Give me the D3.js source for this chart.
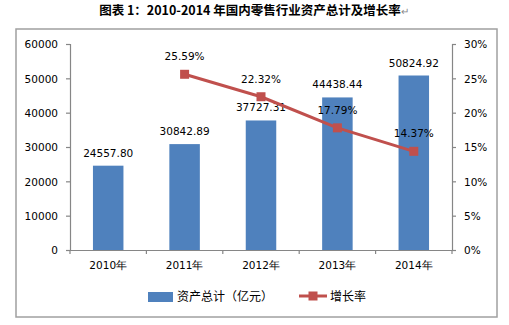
<!DOCTYPE html>
<html><head><meta charset="utf-8">
<script src="https://cdn.jsdelivr.net/npm/d3@7/dist/d3.min.js"></script>
<style>body{margin:0;background:#fff}svg{display:block}</style>
</head><body>
<svg id="c" width="509" height="325"></svg>
<script>
const categories = ["2010年","2011年","2012年","2013年","2014年"];
const assets = [24557.80, 30842.89, 37727.31, 44438.44, 50824.92];
const growth = [null, 25.59, 22.32, 17.79, 14.37];
const leftTicks = [0,10000,20000,30000,40000,50000,60000];
const rightTicks = [0,5,10,15,20,25,30];
const title = "图表 1：2010-2014 年国内零售行业资产总计及增长率";
const legendLabels = ["资产总计（亿元）","增长率"];

const svg = d3.select("#c");
const numFont = "'DejaVu Sans', Verdana, sans-serif";
const cjkFont = "'Noto Sans CJK SC', sans-serif";
const axisColor = "#868686";
const barColor = "#4F81BD", lineColor = "#C0504D";

// frame
svg.append("rect").attr("x",16).attr("y",29).attr("width",481).attr("height",288)
  .attr("fill","none").attr("stroke","#a0a0a0").attr("stroke-width",1.5);

// title
const t = svg.append("text").attr("x",254).attr("y",15).attr("text-anchor","middle")
  .attr("font-family",cjkFont).attr("font-size",12.5).attr("font-weight","bold").attr("fill","#000");
t.append("tspan").text(title);
t.append("tspan").attr("fill","#888").attr("font-weight","normal").attr("font-size",10).text("↵");

const x = d3.scaleBand().domain(categories).range([70,452]);
const yL = d3.scaleLinear().domain([0,60000]).range([250,44]);
const yR = d3.scaleLinear().domain([0,30]).range([250,44]);

// axes
const gl = svg.append("g").attr("transform","translate(70,0)")
  .call(d3.axisLeft(yL).tickValues(leftTicks).tickSize(4).tickPadding(8).tickFormat(d3.format("d")));
const gr = svg.append("g").attr("transform","translate(452,0)")
  .call(d3.axisRight(yR).tickValues(rightTicks).tickSize(4).tickPadding(8).tickFormat(d=>d+"%"));
const gb = svg.append("g").attr("transform","translate(0,250)")
  .call(d3.axisBottom(x).tickSize(0).tickPadding(12));
// category tick marks at band edges
svg.append("g").selectAll("line").data(d3.range(categories.length+1)).join("line")
  .attr("x1",i=>70+i*x.step()).attr("x2",i=>70+i*x.step()).attr("y1",250).attr("y2",254)
  .attr("stroke",axisColor).attr("stroke-width",1.2);
[gl,gr,gb].forEach(g=>{
  g.selectAll("path,line").attr("stroke",axisColor).attr("stroke-width",1.2);
  g.selectAll("text").attr("font-family",numFont).attr("font-size",10.5).attr("fill","#000");
});
gb.select(".domain").attr("d","M70,0.5H452");
gl.selectAll("text").attr("dy","0.35em");
gr.selectAll("text").attr("dy","0.35em");

// bars
const bw = 30.5;
svg.append("g").selectAll("rect").data(assets).join("rect")
  .attr("x",(d,i)=>x(categories[i])+x.bandwidth()/2-bw/2)
  .attr("width",bw).attr("y",d=>yL(d)).attr("height",d=>250-yL(d)).attr("fill",barColor);
svg.append("g").selectAll("text").data(assets).join("text")
  .attr("x",(d,i)=>x(categories[i])+x.bandwidth()/2).attr("y",d=>yL(d)-9)
  .attr("text-anchor","middle").attr("font-family",numFont).attr("font-size",10.5)
  .text(d=>d.toFixed(2));

// line
const pts = growth.map((g,i)=>({g,c:categories[i]})).filter(d=>d.g!=null);
svg.append("path").datum(pts)
  .attr("d",d3.line().x(d=>x(d.c)+x.bandwidth()/2).y(d=>yR(d.g)))
  .attr("fill","none").attr("stroke",lineColor).attr("stroke-width",3).attr("stroke-linejoin","round");
svg.append("g").selectAll("rect").data(pts).join("rect")
  .attr("x",d=>x(d.c)+x.bandwidth()/2-4.5).attr("y",d=>yR(d.g)-4.5)
  .attr("width",9).attr("height",9).attr("fill",lineColor);
svg.append("g").selectAll("text").data(pts).join("text")
  .attr("x",d=>x(d.c)+x.bandwidth()/2).attr("y",d=>yR(d.g)-14)
  .attr("text-anchor","middle").attr("font-family",numFont).attr("font-size",10.5)
  .text(d=>d.g.toFixed(2)+"%");

// legend
const lg = svg.append("g");
lg.append("rect").attr("x",148).attr("y",292).attr("width",25).attr("height",10).attr("fill",barColor);
lg.append("text").attr("x",177).attr("y",301).attr("font-family",cjkFont).attr("font-size",12).text(legendLabels[0]);
lg.append("line").attr("x1",299).attr("x2",327).attr("y1",296).attr("y2",296).attr("stroke",lineColor).attr("stroke-width",3);
lg.append("rect").attr("x",308.5).attr("y",291.5).attr("width",9).attr("height",9).attr("fill",lineColor);
lg.append("text").attr("x",330).attr("y",301).attr("font-family",cjkFont).attr("font-size",12).text(legendLabels[1]);
</script>
</body></html>
